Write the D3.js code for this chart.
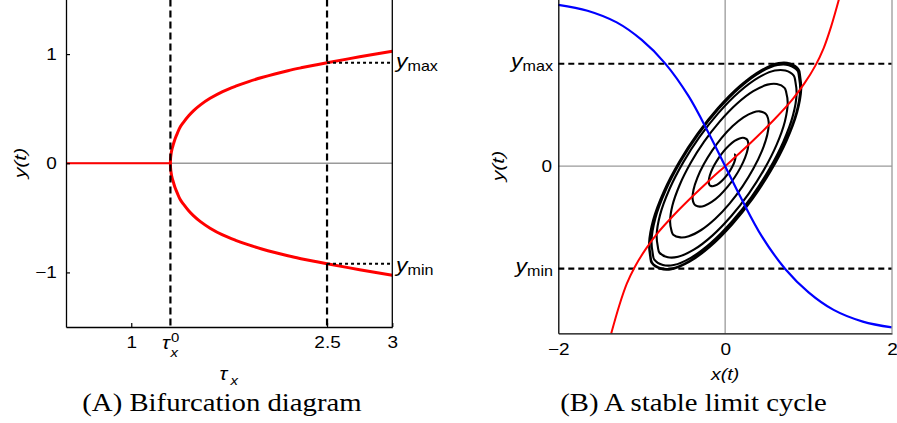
<!DOCTYPE html>
<html><head><meta charset="utf-8">
<script src="https://cdn.jsdelivr.net/npm/d3@7"></script>
<style>
body{margin:0;background:#fff;}
svg{display:block;background:#fff;}
text{font-family:"Liberation Sans",Arial,sans-serif;fill:#000;}
.cap{font-family:"Liberation Serif","Times New Roman",serif;}
</style></head>
<body>
<script>
// ---------- Panel A data : bifurcation diagram ----------
const tauDomain = [0.5, 3];
const yDomainA = [-1.5, 1.5];
const tauTicks = [1, 2.5, 3];
const tauCritical = 1.3;          // tau_x^0
const tauSample = 2.5;
const yTicksA = [-1, 0, 1];
const yMaxA = 0.92, yMinA = -0.92;
const stableTau = [0.5, 1.3];
const stableY = [0, 0];
const branchTau = [1.30, 1.301, 1.305, 1.312, 1.323, 1.336, 1.355, 1.374, 1.40, 1.44, 1.476, 1.53, 1.604, 1.70, 1.80, 1.90, 2.00, 2.10, 2.20, 2.30, 2.40, 2.50, 2.75, 3.00];
const branchAmp = [0, 0.04, 0.085, 0.13, 0.175, 0.225, 0.28, 0.33, 0.375, 0.435, 0.48, 0.535, 0.595, 0.657, 0.706, 0.748, 0.785, 0.818, 0.848, 0.874, 0.898, 0.92, 0.975, 1.025];

// ---------- Panel B data : phase plane ----------
const xDomainB = [-2, 2];
const yDomainB = [-2, 2];
const xTicksB = [-2, 0, 2];
const yMaxB = 1.225, yMinB = -1.225;
const blueX = [-2.0, -1.65, -1.3, -1.0, -0.72, -0.44, -0.2, 0, 0.2, 0.44, 0.72, 1.0, 1.3, 1.65, 2.0];
const blueY = [1.93, 1.86, 1.72, 1.51, 1.23, 0.84, 0.40, 0, -0.40, -0.84, -1.23, -1.51, -1.72, -1.86, -1.93];
const redX = [-1.365, -1.27, -1.18, -1.08, -0.95, -0.8, -0.6, -0.4, -0.2, 0, 0.2, 0.4, 0.6, 0.8, 0.95, 1.08, 1.18, 1.27, 1.365];
const redY = [-2.0, -1.67, -1.41, -1.2, -0.99, -0.79, -0.57, -0.37, -0.18, 0, 0.18, 0.37, 0.57, 0.79, 0.99, 1.2, 1.41, 1.67, 2.0];
// limit-cycle outline, in the cycle's own frame (u along the long axis, v across it)
const cycleU = [1.47, 1.42, 1.30, 1.05, 0.70, 0.30, -0.10, -0.50, -0.88, -1.18, -1.38, -1.46,
                -1.47, -1.42, -1.30, -1.05, -0.70, -0.30, 0.10, 0.50, 0.88, 1.18, 1.38, 1.46];
const cycleV = [0.02, -0.042, -0.153, -0.286, -0.397, -0.471, -0.505, -0.501, -0.455, -0.370, -0.256, -0.147,
                -0.02, 0.042, 0.153, 0.286, 0.397, 0.471, 0.505, 0.501, 0.455, 0.370, 0.256, 0.147];
const cycleTiltDeg = 52;
// size of the trajectory relative to the limit cycle, read at each half turn
const halfTurnScale = [0.12, 0.20, 0.28, 0.40, 0.54, 0.70, 0.80, 0.885, 0.925, 0.955, 0.975, 0.985, 0.99, 0.99, 0.99];

const W = 897, H = 423, SX = 1.15;
const svg = d3.select("body").append("svg").attr("width", W).attr("height", H);

function label(x, y, anchor, size, style) {
  const g = svg.append("g").attr("transform", `translate(${x},${y}) scale(${SX},1)`);
  return g.append("text").attr("text-anchor", anchor).attr("font-size", size)
          .attr("font-style", style || "normal");
}
function yLabel(x, y, anchor, sub) {
  const t = label(x, y, anchor, 20, "normal");
  t.append("tspan").attr("font-style", "italic").text("y");
  t.append("tspan").attr("font-size", 14).attr("dy", 3).text(sub);
}
const fmtMinus = d => d < 0 ? "\u2212" + Math.abs(d) : String(d);

// =============== Panel A ===============
const xA = d3.scaleLinear().domain(tauDomain).range([66, 392.3]);
const yA = d3.scaleLinear().domain(yDomainA).range([327, -0.5]);

svg.append("line").attr("x1", xA(tauDomain[0])).attr("x2", xA(tauDomain[1]))
   .attr("y1", yA(0)).attr("y2", yA(0)).attr("stroke", "#9a9a9a").attr("stroke-width", 1.3);

const lineA = d3.line().x(d => xA(d[0])).y(d => yA(d[1]));
svg.append("path").attr("d", lineA(stableTau.map((t, i) => [t, stableY[i]])))
   .attr("fill", "none").attr("stroke", "#ff0000").attr("stroke-width", 2);

const branchPts = branchTau.map((t, i) => [t, -branchAmp[i]]).reverse()
   .concat(branchTau.slice(1).map((t, i) => [t, branchAmp[i + 1]]));
svg.append("path").attr("d", d3.line().x(d => xA(d[0])).y(d => yA(d[1])).curve(d3.curveCatmullRom.alpha(0.5))(branchPts))
   .attr("fill", "none").attr("stroke", "#ff0000").attr("stroke-width", 3);

[tauCritical, tauSample].forEach(t => {
  svg.append("line").attr("x1", xA(t)).attr("x2", xA(t)).attr("y1", yA(1.5)).attr("y2", yA(-1.5))
     .attr("stroke", "#000").attr("stroke-width", 2.2).attr("stroke-dasharray", "7,4");
});
[yMaxA, yMinA].forEach(v => {
  svg.append("line").attr("x1", xA(tauSample)).attr("x2", xA(3)).attr("y1", yA(v)).attr("y2", yA(v))
     .attr("stroke", "#000").attr("stroke-width", 2).attr("stroke-dasharray", "3,3");
});

const axLA = svg.append("g").attr("transform", `translate(${xA(tauDomain[0])},0)`)
  .call(d3.axisLeft(yA).tickValues(yTicksA).tickSize(-4).tickSizeOuter(0).tickPadding(8).tickFormat(fmtMinus));
const axBA = svg.append("g").attr("transform", `translate(0,${yA(-1.5)})`)
  .call(d3.axisBottom(xA).tickValues(tauTicks).tickSize(-4).tickSizeOuter(0).tickPadding(9.6).tickFormat(d => String(d)));
[axLA, axBA].forEach(a => {
  a.select(".domain").attr("stroke", "#000").attr("stroke-width", 1.3);
  a.selectAll(".tick line").attr("stroke", "#000").attr("stroke-width", 1.2);
  a.selectAll("text").attr("font-size", 16.5).attr("font-family", "Liberation Sans, Arial, sans-serif")
   .attr("transform", `scale(${SX},1)`);
});
svg.append("line").attr("x1", xA(3)).attr("x2", xA(3)).attr("y1", yA(1.5)).attr("y2", yA(-1.5))
   .attr("stroke", "#000").attr("stroke-width", 1.3);

// tau_x^0 tick label
label(xA(tauCritical) - 8.5, 348.5, "start", 18, "italic").text("\u03C4");
label(xA(tauCritical), 357, "start", 13, "italic").text("x");
label(xA(tauCritical) + 0.5, 341.5, "start", 13, "normal").text("0");
// x title
label(219.5, 380, "start", 18, "italic").text("\u03C4");
label(230.5, 384.5, "start", 13, "italic").text("x");
// y title
svg.append("text").attr("transform", `translate(26,163) rotate(-90) scale(1.25,1)`)
   .attr("text-anchor", "middle").attr("font-size", 17).attr("font-style", "italic").text("y(t)");
// ymax / ymin
yLabel(396, 68, "start", "max");
yLabel(396, 272, "start", "min");
// caption
label(222, 410.5, "middle", 25, "normal").attr("class", "cap").text("(A) Bifurcation diagram");

// =============== Panel B ===============
const xB = d3.scaleLinear().domain(xDomainB).range([558.3, 892]);
const yB = d3.scaleLinear().domain(yDomainB).range([333.3, -1]);

svg.append("line").attr("x1", xB(-2)).attr("x2", xB(2)).attr("y1", yB(0)).attr("y2", yB(0))
   .attr("stroke", "#9a9a9a").attr("stroke-width", 1.3);
svg.append("line").attr("x1", xB(0)).attr("x2", xB(0)).attr("y1", yB(-2)).attr("y2", yB(2))
   .attr("stroke", "#9a9a9a").attr("stroke-width", 1.3);
[yMaxB, yMinB].forEach(v => {
  svg.append("line").attr("x1", xB(-2)).attr("x2", xB(2)).attr("y1", yB(v)).attr("y2", yB(v))
     .attr("stroke", "#000").attr("stroke-width", 2.2).attr("stroke-dasharray", "6,4");
});

// trajectory: the limit-cycle outline, sized by the half-turn scale
const th = cycleTiltDeg * Math.PI / 180, ct = Math.cos(th), st = Math.sin(th);
const nC = cycleU.length, half = nC / 2;
const spiral = [];
for (let h = 0; h < halfTurnScale.length - 1; h++) {
  for (let j = 0; j < half; j++) {
    const idx = (h * half + j) % nC;
    const sc = halfTurnScale[h] + (halfTurnScale[h + 1] - halfTurnScale[h]) * j / half;
    const u = cycleU[idx] * sc, v = cycleV[idx] * sc;
    spiral.push([u * ct - v * st, u * st + v * ct]);
  }
}
{
  const h = halfTurnScale.length - 1, idx = (h * half) % nC, sc = halfTurnScale[h];
  const u = cycleU[idx] * sc, v = cycleV[idx] * sc;
  spiral.push([u * ct - v * st, u * st + v * ct]);
}

const lineB = d3.line().x(d => xB(d[0])).y(d => yB(d[1])).curve(d3.curveCatmullRom.alpha(0.5));
svg.append("path").attr("d", lineB(spiral)).attr("fill", "none").attr("stroke", "#000")
   .attr("stroke-width", 2.1).attr("stroke-linejoin", "round");
svg.append("path").attr("d", lineB(redX.map((x, i) => [x, redY[i]])))
   .attr("fill", "none").attr("stroke", "#ff0000").attr("stroke-width", 2);
svg.append("path").attr("d", lineB(blueX.map((x, i) => [x, blueY[i]])))
   .attr("fill", "none").attr("stroke", "#0000ff").attr("stroke-width", 2.2);

const axLB = svg.append("g").attr("transform", `translate(${xB(-2)},0)`)
  .call(d3.axisLeft(yB).tickValues([0]).tickSize(0).tickSizeOuter(0).tickPadding(5.5).tickFormat(d => String(d)));
const axBB = svg.append("g").attr("transform", `translate(0,${yB(-2)})`)
  .call(d3.axisBottom(xB).tickValues(xTicksB).tickSize(0).tickSizeOuter(0).tickPadding(10).tickFormat(fmtMinus));
[axLB, axBB].forEach(a => {
  a.select(".domain").attr("stroke", "#000").attr("stroke-width", 1.3);
  a.selectAll("text").attr("font-size", 16.5).attr("font-family", "Liberation Sans, Arial, sans-serif")
   .attr("transform", `scale(${SX},1)`);
});
svg.append("line").attr("x1", xB(2)).attr("x2", xB(2)).attr("y1", yB(-2)).attr("y2", yB(2))
   .attr("stroke", "#9a9a9a").attr("stroke-width", 1.3);

yLabel(553, 68, "end", "max");
yLabel(553, 273, "end", "min");
svg.append("text").attr("transform", `translate(504,166) rotate(-90) scale(1.25,1)`)
   .attr("text-anchor", "middle").attr("font-size", 17).attr("font-style", "italic").text("y(t)");
label(xB(0), 380, "middle", 17, "italic").text("x(t)");
label(693.5, 410.5, "middle", 25, "normal").attr("class", "cap").text("(B) A stable limit cycle");
</script>
</body></html>
